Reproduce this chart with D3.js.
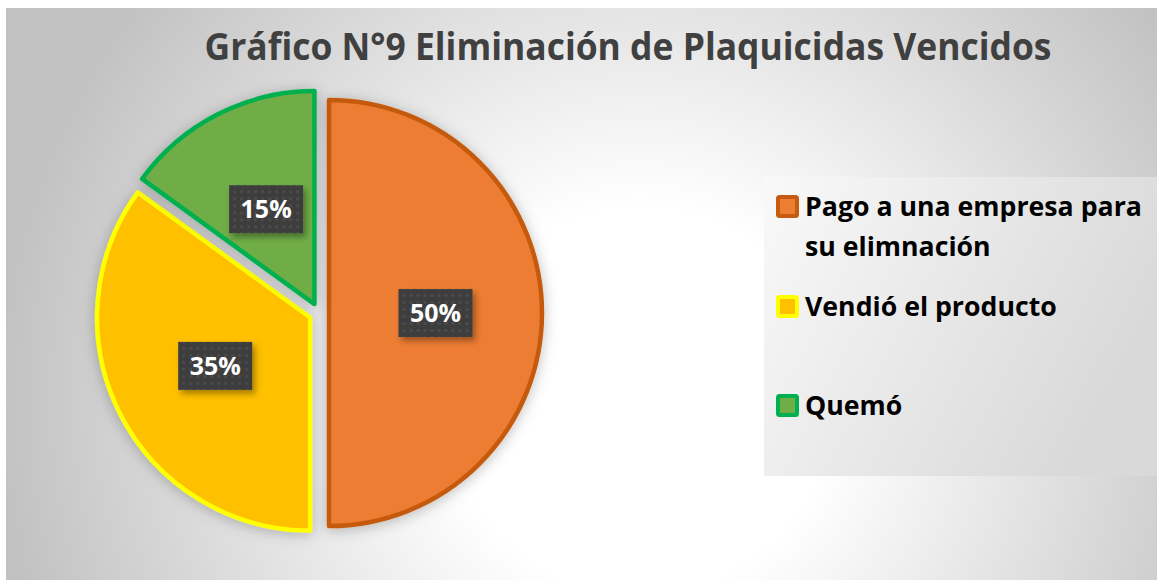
<!DOCTYPE html>
<html>
<head>
<meta charset="utf-8">
<script src="https://cdn.jsdelivr.net/npm/d3@7"></script>
<style>
  html, body { margin: 0; padding: 0; background: #fff; }
  svg { display: block; }
  text { font-family: "Open Sans", "DejaVu Sans", sans-serif; }
</style>
</head>
<body>
<div id="chart"></div>
<script>
// chart values
const categories = ['Pago a una empresa para su elimnación', 'Vendió el producto', 'Quemó'];
const values = [50, 35, 15];
const valueLabels = ['50%', '35%', '15%'];
const fillColors = ['#ED7D31', '#FFC000', '#70AD47'];
const strokeColors = ['#C55A11', '#FFFF00', '#00B050'];
const title = 'Gráfico N°9 Eliminación de Plaquicidas Vencidos';

const width = 1157;
const height = 580;

const svg = d3.select('#chart')
  .append('svg')
  .attr('width', width)
  .attr('height', height);

const defs = svg.append('defs');

// background gradient
const bg = defs.append('radialGradient')
  .attr('id', 'bgGrad')
  .attr('gradientUnits', 'userSpaceOnUse')
  .attr('cx', 640).attr('cy', 400).attr('r', 640);
bg.append('stop').attr('offset', '0').attr('stop-color', '#ffffff');
bg.append('stop').attr('offset', '0.3').attr('stop-color', '#ffffff');
bg.append('stop').attr('offset', '1').attr('stop-color', '#c2c2c2');

const legGrad = defs.append('linearGradient')
  .attr('id', 'legGrad')
  .attr('x1', '0').attr('y1', '0').attr('x2', '1').attr('y2', '0.4');
legGrad.append('stop').attr('offset', '0').attr('stop-color', '#f9f9f9');
legGrad.append('stop').attr('offset', '1').attr('stop-color', '#d9d9d9');

// slice shadow
const shadow = defs.append('filter').attr('id', 'sliceShadow')
  .attr('x', '-20%').attr('y', '-20%').attr('width', '140%').attr('height', '140%');
shadow.append('feDropShadow')
  .attr('dx', 0).attr('dy', 2)
  .attr('stdDeviation', 7)
  .attr('flood-color', '#000')
  .attr('flood-opacity', 0.25);

const boxShadow = defs.append('filter').attr('id', 'boxShadow')
  .attr('x', '-30%').attr('y', '-30%').attr('width', '160%').attr('height', '160%');
boxShadow.append('feDropShadow')
  .attr('dx', 3).attr('dy', 4)
  .attr('stdDeviation', 3)
  .attr('flood-color', '#000')
  .attr('flood-opacity', 0.35);

// dotted pattern for label boxes
const pat = defs.append('pattern')
  .attr('id', 'dots')
  .attr('patternUnits', 'userSpaceOnUse')
  .attr('width', 7).attr('height', 7);
pat.append('rect').attr('width', 7).attr('height', 7).attr('fill', '#3d3d3d');
pat.append('circle').attr('cx', 3.5).attr('cy', 3.5).attr('r', 1.6).attr('fill', '#4c4c4c');

// background
svg.append('rect')
  .attr('x', 6).attr('y', 8)
  .attr('width', width - 6).attr('height', height - 8)
  .attr('fill', 'url(#bgGrad)');

// title: tall bold text, squeezed horizontally to the original width
const titleX = 628;
const titleText = svg.append('text')
  .attr('x', 0)
  .attr('y', 0)
  .attr('text-anchor', 'middle')
  .attr('fill', '#404040')
  .attr('font-weight', 'bold')
  .attr('font-size', 37)
  .text(title);
const tw = titleText.node().getComputedTextLength();
titleText.attr('transform', `translate(${titleX},60) scale(${847 / tw},1)`);

// pie
const cx = 319;
const cy = 313;
const radius = 213;
const explode = 10;

const pie = d3.pie().sort(null).value((d) => d.value);
const arc = d3.arc().innerRadius(0).outerRadius(radius);

const data = categories.map((c, i) => ({
  name: c,
  value: values[i],
  label: valueLabels[i],
  fill: fillColors[i],
  stroke: strokeColors[i],
}));

const arcs = pie(data);

const pieG = svg.append('g').attr('transform', `translate(${cx},${cy})`);

function offset(d) {
  const mid = (d.startAngle + d.endAngle) / 2;
  return [Math.sin(mid) * explode, -Math.cos(mid) * explode];
}

pieG.selectAll('path.slice')
  .data(arcs)
  .join('path')
  .attr('class', 'slice')
  .attr('transform', (d) => `translate(${offset(d)})`)
  .attr('d', arc)
  .attr('fill', (d) => d.data.fill)
  .attr('stroke', (d) => d.data.stroke)
  .attr('stroke-width', 4.5)
  .attr('stroke-linejoin', 'round')
  .attr('filter', 'url(#sliceShadow)');

// value labels
const lbl = pieG.selectAll('g.lbl')
  .data(arcs)
  .join('g')
  .attr('class', 'lbl')
  .attr('transform', (d) => {
    const o = offset(d);
    const c = arc.centroid(d);
    return `translate(${c[0] + o[0]},${c[1] + o[1]})`;
  });

lbl.append('rect')
  .attr('x', -37).attr('y', -24)
  .attr('width', 74).attr('height', 48)
  .attr('fill', 'url(#dots)')
  .attr('filter', 'url(#boxShadow)');

lbl.append('text')
  .attr('text-anchor', 'middle')
  .attr('dy', '0.36em')
  .attr('fill', '#ffffff')
  .attr('font-weight', 'bold')
  .attr('font-size', 25)
  .text((d) => d.data.label);

// legend
svg.append('rect')
  .attr('x', 764).attr('y', 177)
  .attr('width', width - 764).attr('height', 299)
  .attr('fill', 'url(#legGrad)');

const legendY = [207, 307, 406];
const legendFont = 26.7;
const maxLine = 345;

const leg = svg.selectAll('g.legend')
  .data(data)
  .join('g')
  .attr('class', 'legend')
  .attr('transform', (d, i) => `translate(776,${legendY[i]})`);

leg.append('rect')
  .attr('x', 2).attr('y', -10)
  .attr('width', 19).attr('height', 19)
  .attr('rx', 1.5)
  .attr('fill', (d) => d.fill)
  .attr('stroke', (d) => d.stroke)
  .attr('stroke-width', 4);

leg.each(function (d) {
  const g = d3.select(this);
  const t = g.append('text')
    .attr('x', 29)
    .attr('y', 9)
    .attr('fill', '#000')
    .attr('font-weight', 'bold')
    .attr('font-size', legendFont);
  const words = d.name.split(' ');
  let line = [];
  let tspan = t.append('tspan').attr('x', 29).attr('dy', 0);
  for (const w of words) {
    line.push(w);
    tspan.text(line.join(' '));
    if (tspan.node().getComputedTextLength() > maxLine && line.length > 1) {
      line.pop();
      tspan.text(line.join(' '));
      line = [w];
      tspan = t.append('tspan').attr('x', 29).attr('dy', 40).text(w);
    }
  }
});
</script>
</body>
</html>
